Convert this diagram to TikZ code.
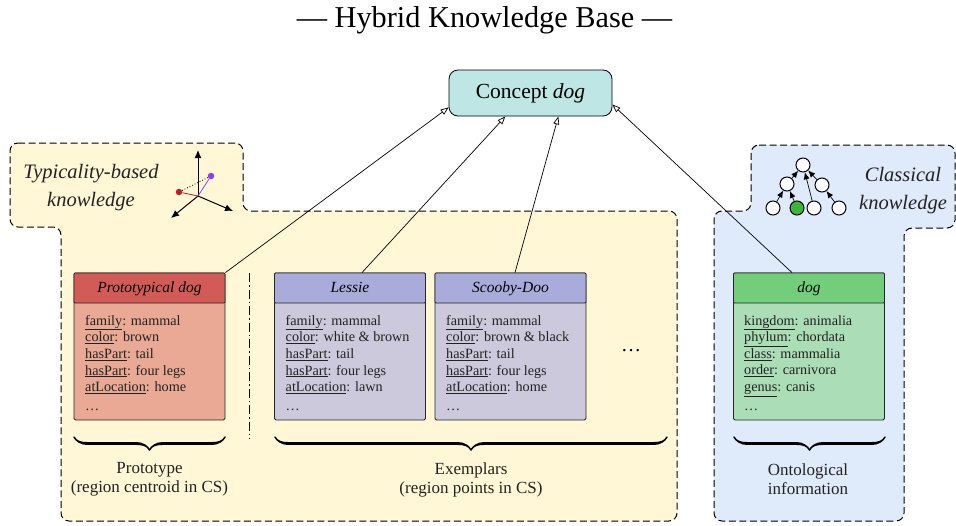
\documentclass[tikz,border=0pt]{standalone}
\usepackage{fontspec}
\setmainfont{Liberation Serif}
\usetikzlibrary{arrows.meta,decorations.pathreplacing,calligraphy}
\definecolor{yellowreg}{HTML}{FFF7D6}
\definecolor{bluereg}{HTML}{DFEAFB}
\definecolor{conceptfill}{HTML}{BDE6E5}
\definecolor{redhead}{HTML}{D25B57}
\definecolor{redbody}{HTML}{E9A995}
\definecolor{bluehead}{HTML}{A9ABDB}
\definecolor{bluebody}{HTML}{CBC9DB}
\definecolor{greenhead}{HTML}{72CE7A}
\definecolor{greenbody}{HTML}{ABDDB7}
\definecolor{inkgray}{HTML}{222222}
\definecolor{spotred}{HTML}{B5202A}
\definecolor{spotviolet}{HTML}{8A3FEF}
\definecolor{spotgreen}{HTML}{3DB53D}
\tikzset{
  region/.style={draw=black,line width=1pt,dash pattern=on 7pt off 3.5pt,rounded corners=8pt},
  cardbody/.style={draw=black!85,line width=0.8pt,rounded corners=1.5pt,inner sep=0pt,minimum width=151pt,minimum height=147pt},
  cardhead/.style={draw=black!85,line width=0.8pt,rounded corners=1pt,inner sep=0pt,minimum width=151pt,minimum height=30pt,text height=11pt,text depth=3pt,font=\fontsize{15.5}{18}\selectfont\itshape},
  cardtext/.style={inner sep=0pt,align=left,anchor=north west,font=\fontsize{14.2}{16.6}\selectfont,text=inkgray},
  capt/.style={inner sep=0pt,align=center,font=\fontsize{17}{19}\selectfont,text=inkgray},
  reglabel/.style={inner sep=0pt,align=center,font=\fontsize{20.5}{28}\selectfont\itshape,text=inkgray},
  link/.style={draw=black,line width=0.7pt,-{Triangle[open,length=8pt,width=6pt]}},
  bracestyle/.style={decorate,decoration={calligraphic brace,amplitude=13pt,mirror,raise=0pt},line width=3pt,draw=black},
  treenode/.style={circle,draw=black,line width=1pt,fill=white,minimum size=14pt,inner sep=0pt},
  treearrow/.style={line width=0.7pt,-{Latex[length=7pt,width=6pt]}},
  axis/.style={line width=1pt,-{Latex[length=8pt,width=7pt]}},
  spot/.style={circle,inner sep=0pt,minimum size=6.5pt}
}
\newcommand{\ul}[1]{\underline{#1}}
\begin{document}
\begin{tikzpicture}[x=1pt,y=-1pt]
\useasboundingbox (0,0) rectangle (956,525);
\node[inner sep=0pt,font=\fontsize{30.3}{34}\selectfont] (title) at (484.5,20) {— Hybrid Knowledge Base —};
% regions
\path[region,fill=yellowreg] (10,143) -- (243,143) -- (243,211) -- (677,211) -- (677,521) -- (61,521) -- (61,227) -- (10,227) -- cycle;
\path[region,fill=bluereg] (751,145) -- (955,145) -- (955,228) -- (904,228) -- (904,521) -- (714,521) -- (714,211) -- (751,211) -- cycle;
\node[reglabel] (typ) at (91,188) {Typicality-based\\knowledge};
\node[reglabel] (cla) at (903,191) {Classical\\knowledge};
% concept
\node[draw=black,line width=0.8pt,fill=conceptfill,rounded corners=9pt,minimum width=163pt,minimum height=46pt,inner sep=0pt,font=\fontsize{21.5}{24}\selectfont] (concept) at (530.5,93) {Concept \textit{dog}};
% cards
\node[cardbody,fill=redbody] (protob) at (149.5,346.5) {};
\node[cardhead,fill=redhead] (proto) at (149.5,288) {Prototypical dog};
\node[cardtext] (protot) at (85,315) {\ul{family}: mammal\\\ul{color}: brown\\\ul{hasPart}: tail\\\ul{hasPart}: four legs\\\ul{atLocation}: home\\\raisebox{-2pt}{\dots}};
\node[cardbody,fill=bluebody] (lessieb) at (350,346.5) {};
\node[cardhead,fill=bluehead] (lessie) at (350,288) {Lessie};
\node[cardtext] (lessiet) at (285.5,315) {\ul{family}: mammal\\\ul{color}: white \& brown\\\ul{hasPart}: tail\\\ul{hasPart}: four legs\\\ul{atLocation}: lawn\\\raisebox{-2pt}{\dots}};
\node[cardbody,fill=bluebody] (scoobyb) at (510.5,346.5) {};
\node[cardhead,fill=bluehead] (scooby) at (510.5,288) {Scooby-Doo};
\node[cardtext] (scoobyt) at (446,315) {\ul{family}: mammal\\\ul{color}: brown \& black\\\ul{hasPart}: tail\\\ul{hasPart}: four legs\\\ul{atLocation}: home\\\raisebox{-2pt}{\dots}};
\node[cardbody,fill=greenbody] (dogb) at (809,346.5) {};
\node[cardhead,fill=greenhead] (dog) at (809,288) {dog};
\node[cardtext] (dogt) at (744,315) {\ul{kingdom}: animalia\\\ul{phylum}: chordata\\\ul{class}: mammalia\\\ul{order}: carnivora\\\ul{genus}: canis\\\raisebox{-2pt}{\dots}};
\node[inner sep=0pt,font=\fontsize{20}{24}\selectfont] (more) at (631,351) {\dots};
% connectors
\draw[link] (proto.north east) -- (concept.190);
\draw[link] ([xshift=12pt]lessie.north) -- (concept.223);
\draw[link] ([xshift=4.5pt]scooby.north) -- (concept.320);
\draw[link] ([xshift=-17pt]dog.north) -- (concept.352);
% divider
\coordinate (divtop) at (249.5,273);
\coordinate (divbot) at (249.5,439);
\draw[line width=0.8pt,dash pattern=on 9pt off 3pt on 1.5pt off 3pt] (divtop) -- (divbot);
% braces
\coordinate (b1l) at (74,437); \coordinate (b1r) at (225,437);
\coordinate (b2l) at (275,437); \coordinate (b2r) at (667,437);
\coordinate (b3l) at (734,437); \coordinate (b3r) at (885,437);
\draw[bracestyle] (b1l) -- (b1r);
\draw[bracestyle] (b2l) -- (b2r);
\draw[bracestyle] (b3l) -- (b3r);
\node[capt] (cap1) at (149.5,479.5) {Prototype\\(region centroid in CS)};
\node[capt] (cap2) at (471,479.5) {Exemplars\\(region points in CS)};
\node[capt] (cap3) at (808,479.5) {Ontological\\information};
% conceptual-space icon
\coordinate (o) at (198,196);
\coordinate (ax1) at (198,150);
\coordinate (ax2) at (233,211);
\coordinate (ax3) at (171,218);
\node[spot,fill=spotred] (rp) at (179,192) {};
\node[spot,fill=spotviolet] (pp) at (211,176) {};
\draw[axis] (o) -- (ax1);
\draw[axis] (o) -- (ax2);
\draw[axis] (o) -- (ax3);
\draw[line width=0.8pt,spotred] (o) -- (rp);
\draw[line width=0.8pt,spotviolet] (o) -- (pp);
\draw[line width=0.8pt,dotted] (rp) -- (pp);
% ontology tree
\node[treenode] (t0) at (803,165) {};
\node[treenode] (t1) at (787,184) {};
\node[treenode] (t2) at (822,185) {};
\node[treenode] (l1) at (773,208) {};
\node[treenode,fill=spotgreen] (l2) at (797,208) {};
\node[treenode] (l3) at (814,208) {};
\node[treenode] (l4) at (839,208) {};
\draw[treearrow] (t1) -- (t0);
\draw[treearrow] (t2) -- (t0);
\draw[treearrow] (l3) -- (t0);
\draw[treearrow] (l1) -- (t1);
\draw[treearrow] (l2) -- (t1);
\draw[treearrow] (l4) -- (t2);
\end{tikzpicture}
\end{document}
